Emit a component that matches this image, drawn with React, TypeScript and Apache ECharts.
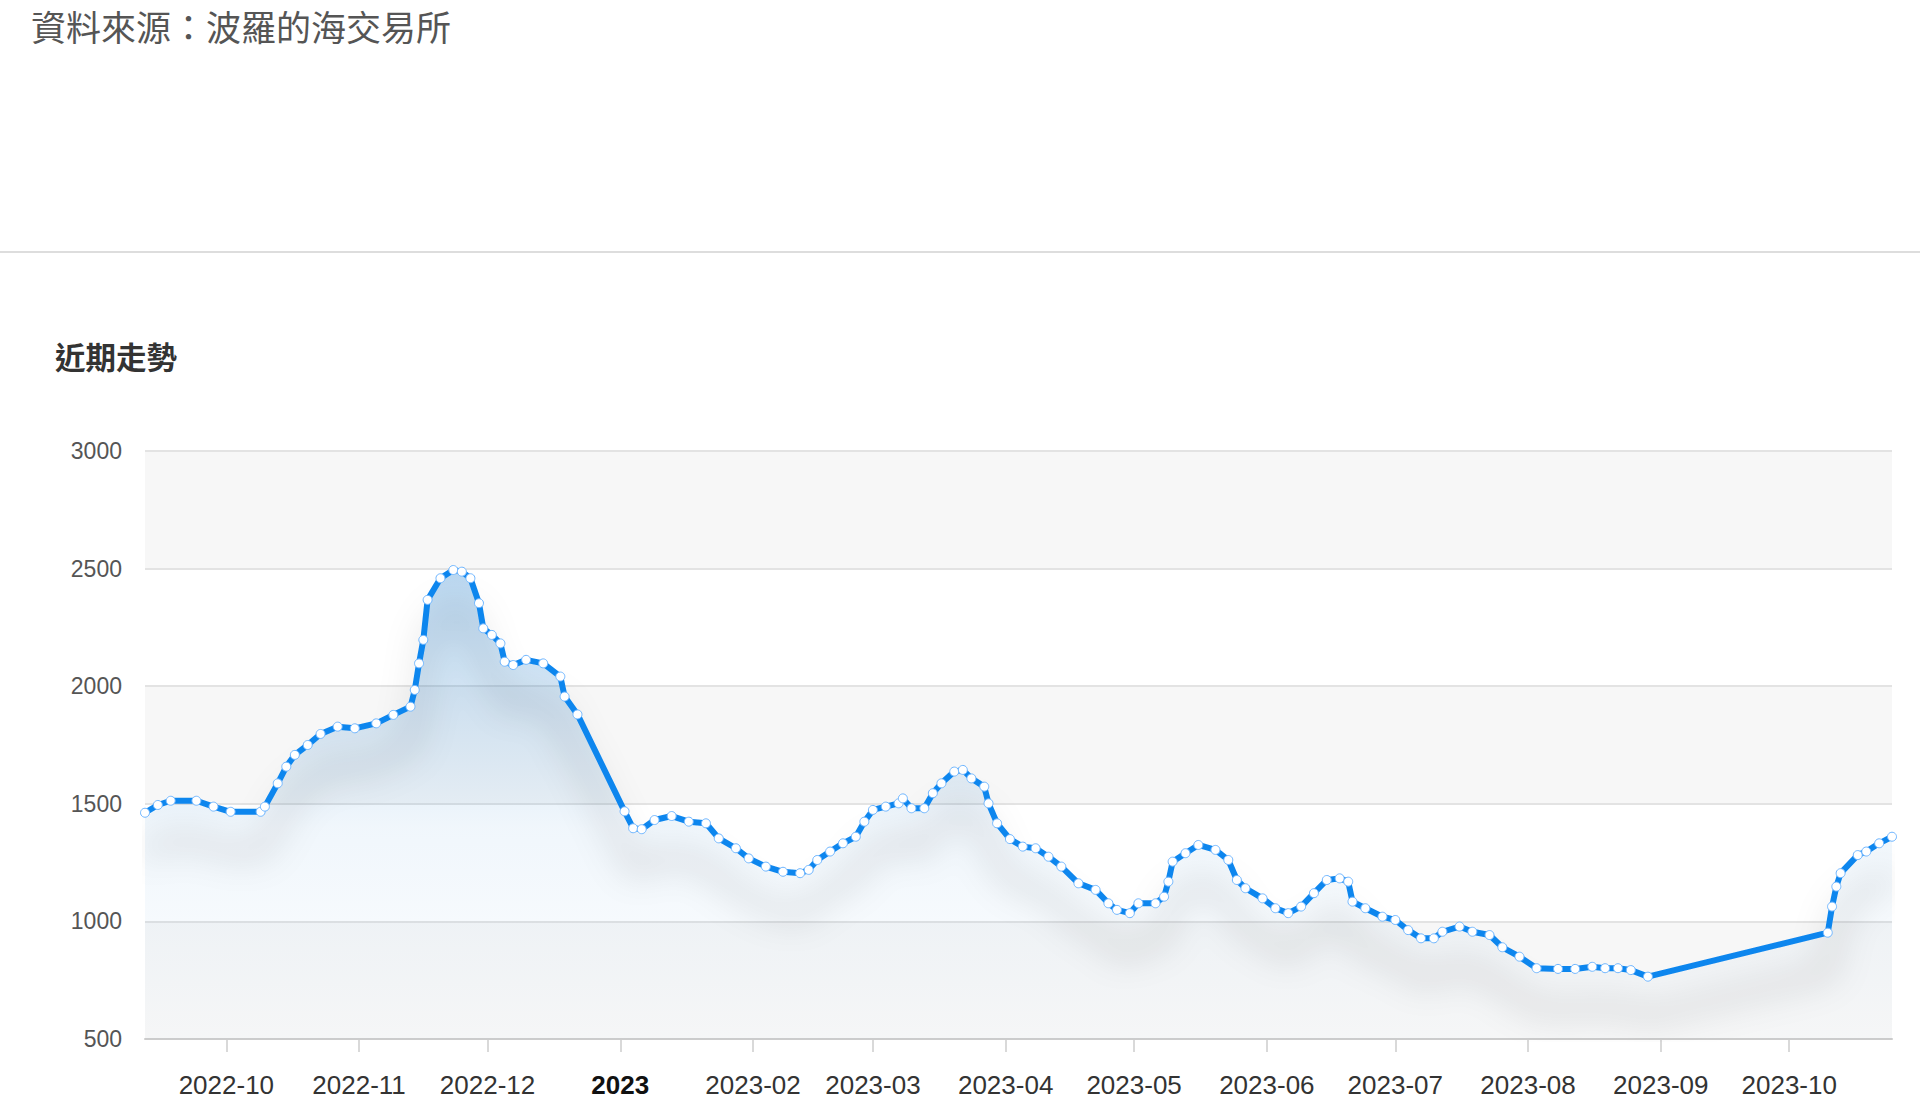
import React, { useEffect, useRef } from "react";
import * as echarts from "echarts";

const dates = [
  "2022-09-12", "2022-09-15", "2022-09-18", "2022-09-24", "2022-09-28", "2022-10-02",
  "2022-10-09", "2022-10-10", "2022-10-13", "2022-10-15", "2022-10-17", "2022-10-20",
  "2022-10-23", "2022-10-27", "2022-10-31", "2022-11-05", "2022-11-09", "2022-11-13",
  "2022-11-14", "2022-11-15", "2022-11-16", "2022-11-17", "2022-11-20", "2022-11-23",
  "2022-11-25", "2022-11-27", "2022-11-29", "2022-11-30", "2022-12-02", "2022-12-04",
  "2022-12-05", "2022-12-07", "2022-12-10", "2022-12-14", "2022-12-18", "2022-12-19",
  "2022-12-22", "2023-01-02", "2023-01-04", "2023-01-06", "2023-01-09", "2023-01-13",
  "2023-01-17", "2023-01-21", "2023-01-24", "2023-01-28", "2023-01-31", "2023-02-04",
  "2023-02-08", "2023-02-12", "2023-02-14", "2023-02-16", "2023-02-19", "2023-02-22",
  "2023-02-25", "2023-02-27", "2023-03-01", "2023-03-04", "2023-03-07", "2023-03-08",
  "2023-03-10", "2023-03-13", "2023-03-15", "2023-03-17", "2023-03-20", "2023-03-22",
  "2023-03-24", "2023-03-27", "2023-03-28", "2023-03-30", "2023-04-02", "2023-04-05",
  "2023-04-08", "2023-04-11", "2023-04-14", "2023-04-18", "2023-04-22", "2023-04-25",
  "2023-04-27", "2023-04-30", "2023-05-02", "2023-05-06", "2023-05-08", "2023-05-09",
  "2023-05-10", "2023-05-13", "2023-05-16", "2023-05-20", "2023-05-23", "2023-05-25",
  "2023-05-27", "2023-05-31", "2023-06-03", "2023-06-06", "2023-06-09", "2023-06-12",
  "2023-06-15", "2023-06-18", "2023-06-20", "2023-06-21", "2023-06-24", "2023-06-28",
  "2023-07-01", "2023-07-04", "2023-07-07", "2023-07-10", "2023-07-12", "2023-07-16",
  "2023-07-19", "2023-07-23", "2023-07-26", "2023-07-30", "2023-08-03", "2023-08-08",
  "2023-08-12", "2023-08-16", "2023-08-19", "2023-08-22", "2023-08-25", "2023-08-29",
  "2023-10-10", "2023-10-11", "2023-10-12", "2023-10-13", "2023-10-17", "2023-10-19",
  "2023-10-22", "2023-10-25",
];

const values = [
  1462, 1495, 1513, 1513, 1488, 1466,
  1466, 1488, 1587, 1658, 1708, 1750,
  1797, 1828, 1821, 1842, 1878, 1913,
  1984, 2097, 2197, 2367, 2459, 2494,
  2487, 2459, 2353, 2246, 2218, 2182,
  2104, 2090, 2112, 2097, 2041, 1956,
  1880, 1468, 1396, 1392, 1431, 1448,
  1424, 1417, 1353, 1311, 1268, 1233,
  1211, 1205, 1219, 1261, 1297, 1332,
  1360, 1424, 1474, 1488, 1502, 1523,
  1481, 1481, 1545, 1587, 1637, 1644,
  1608, 1573, 1502, 1417, 1350, 1318,
  1311, 1275, 1233, 1162, 1134, 1077,
  1049, 1035, 1077, 1077, 1105, 1169,
  1254, 1290, 1325, 1304, 1261, 1176,
  1141, 1098, 1056, 1035, 1063, 1120,
  1176, 1183, 1169, 1084, 1056, 1020,
  1006, 963, 928, 928, 956, 978,
  956, 942, 890, 850, 801, 798,
  798, 807, 801, 801, 793, 765,
  952, 1063, 1148, 1205, 1282, 1297,
  1332, 1360,
];

const yTicks = [500, 1000, 1500, 2000, 2500, 3000];

const sourceText = "資料來源：波羅的海交易所";
const sectionTitle = "近期走勢";

export default function App() {
  const ref = useRef<HTMLDivElement>(null);

  useEffect(() => {
    document.body.style.margin = "0";
    const chart = echarts.init(ref.current!, null, { renderer: "svg" });
    const data = dates.map((d, i) => [d, values[i]]);
    const DAY = 24 * 3600 * 1000;
    chart.setOption({
      animation: false,
      backgroundColor: "#ffffff",
      graphic: [
        {
          type: "text",
          left: 31,
          top: 8,
          style: {
            text: sourceText,
            fontSize: 35,
            fill: "#555555",
            fontFamily: "'Noto Sans CJK TC', sans-serif",
          },
        },
        {
          type: "line",
          shape: { x1: 0, y1: 252, x2: 1920, y2: 252 },
          style: { stroke: "#dddddd", lineWidth: 2 },
        },
        {
          type: "text",
          left: 55,
          top: 341,
          style: {
            text: sectionTitle,
            fontSize: 30.5,
            fontWeight: "bold",
            fill: "#333333",
            fontFamily: "'Noto Sans CJK TC', sans-serif",
          },
        },
      ],
      grid: { left: 145, right: 28, top: 451, bottom: 75 },
      xAxis: {
        type: "time",
        min: dates[0],
        max: dates[dates.length - 1],
        splitNumber: 13,
        minInterval: 28 * DAY,
        maxInterval: 31 * DAY,
        axisLine: { lineStyle: { color: "#cccccc", width: 2 } },
        axisTick: { show: true, length: 13, lineStyle: { color: "#cccccc", width: 1.5 } },
        splitLine: { show: false },
        axisLabel: {
          margin: 33,
          fontSize: 26,
          color: "#333333",
          fontFamily: "'Liberation Sans', Arial, sans-serif",
          showMinLabel: false,
          showMaxLabel: false,
          formatter: (val: number) => {
            const d = new Date(val);
            const y = d.getFullYear();
            const m = d.getMonth() + 1;
            if (m === 1) return "{y|" + y + "}";
            return y + "-" + (m < 10 ? "0" + m : "" + m);
          },
          rich: {
            y: {
              fontSize: 26,
              fontWeight: "bold",
              color: "#111111",
              fontFamily: "'Liberation Sans', Arial, sans-serif",
            },
          },
        },
      },
      yAxis: {
        type: "value",
        min: yTicks[0],
        max: yTicks[yTicks.length - 1],
        interval: 500,
        axisLine: { show: false },
        axisTick: { show: false },
        axisLabel: {
          margin: 23,
          fontSize: 23,
          color: "#555555",
          fontFamily: "'Liberation Sans', Arial, sans-serif",
          formatter: (v: number) => String(v),
        },
        splitLine: { lineStyle: { color: "#e3e3e3", width: 2 } },
        splitArea: { show: true, areaStyle: { color: ["#f7f7f7", "#ffffff"] } },
      },
      series: [
        {
          type: "line",
          data,
          symbol: "circle",
          symbolSize: 9,
          showSymbol: true,
          itemStyle: { color: "#ffffff", borderColor: "#6fb6ff", borderWidth: 1 },
          lineStyle: {
            color: "#0f86ee",
            width: 6,
            shadowColor: "rgba(0,0,0,0.3)",
            shadowBlur: 34,
            shadowOffsetY: 40,
          },
          areaStyle: {
            color: new echarts.graphic.LinearGradient(0, 0, 0, 1, [
              { offset: 0, color: "rgba(20,120,205,0.42)" },
              { offset: 0.55, color: "rgba(20,120,205,0.09)" },
              { offset: 1, color: "rgba(20,120,205,0.01)" },
            ]),
          },
        },
      ],
    });
    return () => chart.dispose();
  }, []);

  return <div ref={ref} style={{ width: 1920, height: 1114 }} />;
}
